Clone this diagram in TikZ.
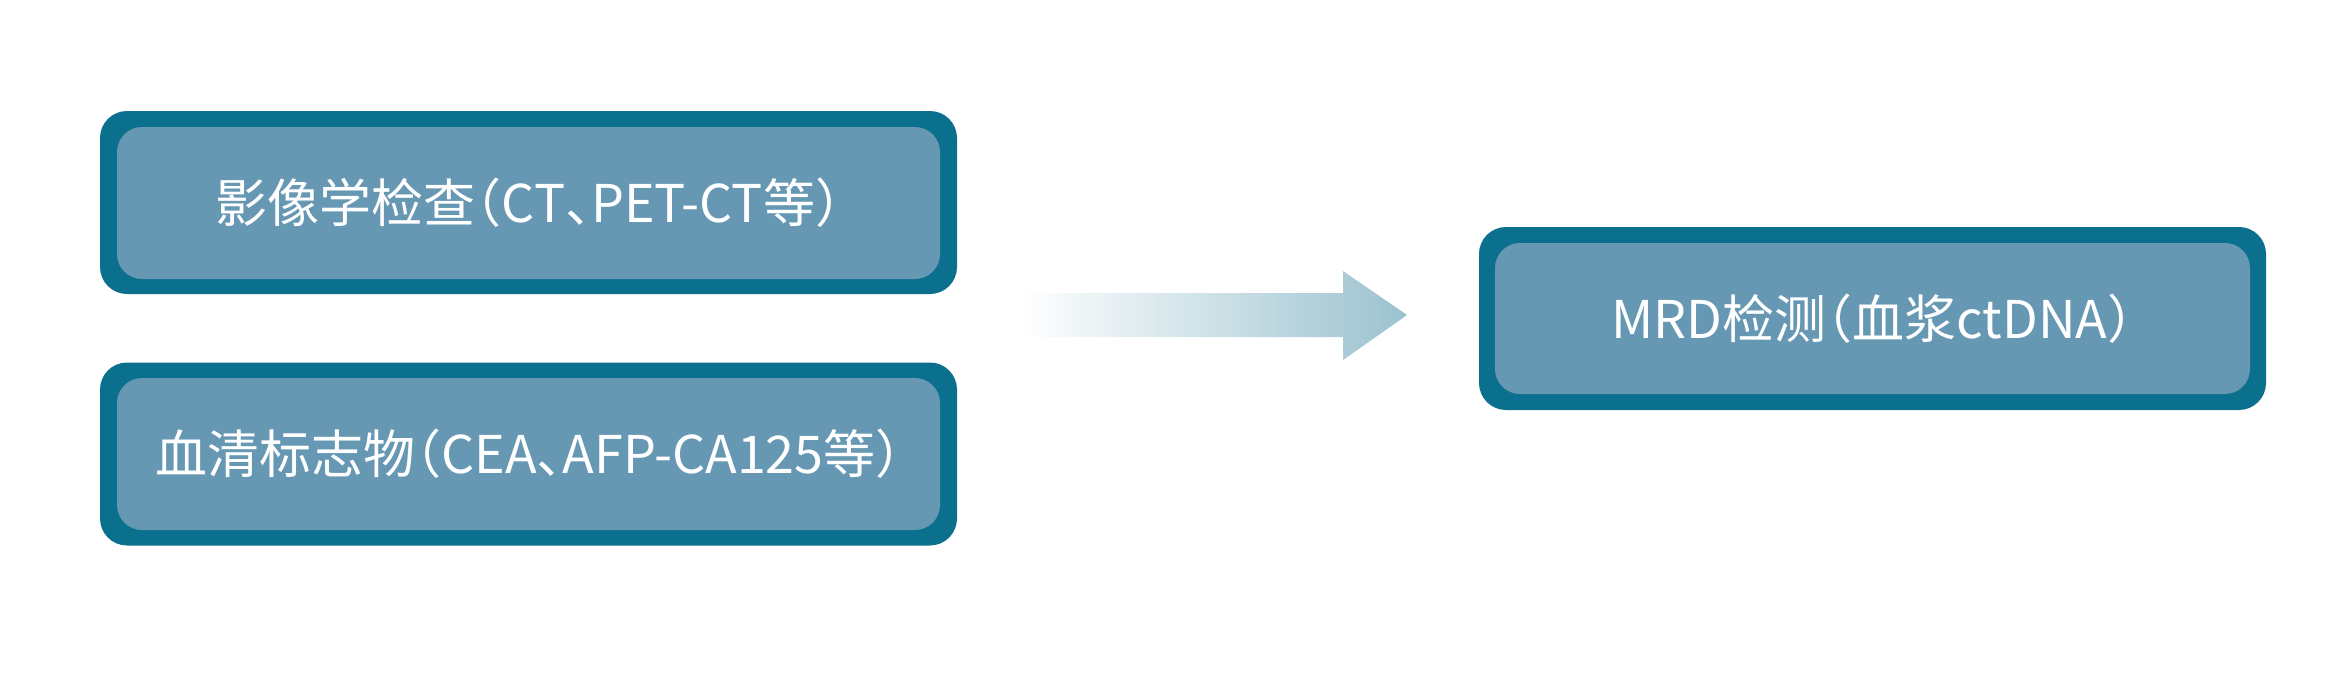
\documentclass[tikz,border=0pt]{standalone}
\usepackage{fontspec}
\usetikzlibrary{calc}
\newfontfamily\cjk[RawFeature=+halt]{Noto Sans CJK SC}
\definecolor{boxdark}{RGB}{11,111,142}
\definecolor{boxlight}{RGB}{102,152,180}
\definecolor{arrowc}{RGB}{155,194,207}
\begin{document}
\begin{tikzpicture}[x=0.5pt,y=-0.5pt,
  outerbox/.style={fill=boxdark,rounded corners=13.5pt,inner sep=0pt,outer sep=0pt},
  innerbox/.style={fill=boxlight,rounded corners=12.5pt,inner sep=0pt,outer sep=0pt,
    text=white,font=\cjk\fontsize{26pt}{31pt}\selectfont}]
\useasboundingbox (0,0) rectangle (2329,696);
% box 1
\node[outerbox,minimum width=428.5pt,minimum height=91.5pt] (b1o) at (528.5,202.5) {};
\node[innerbox,minimum width=411.5pt,minimum height=76pt] (b1) at (528.5,203) {影像学检查（CT、PET-CT等）};
% box 2
\node[outerbox,minimum width=428.5pt,minimum height=91.5pt] (b2o) at (528.5,454) {};
\node[innerbox,minimum width=411.5pt,minimum height=76pt] (b2) at (528.5,454) {血清标志物（CEA、AFP-CA125等）};
% box 3
\node[outerbox,minimum width=393.5pt,minimum height=91.5pt] (b3o) at (1872.5,318.5) {};
\node[innerbox,minimum width=377.5pt,minimum height=75.5pt] (b3) at (1872.5,318.5) {MRD检测（血浆ctDNA）};
% block arrow
\coordinate (as) at (1020,315);
\coordinate (at) at (1407,315);
\shade[left color=white,right color=arrowc]
  ($(as)+(0,-22)$) -- (1343,293) -- (1343,271) -- (at) -- (1343,360) -- (1343,337) -- ($(as)+(0,22)$) -- cycle;
\end{tikzpicture}
\end{document}
